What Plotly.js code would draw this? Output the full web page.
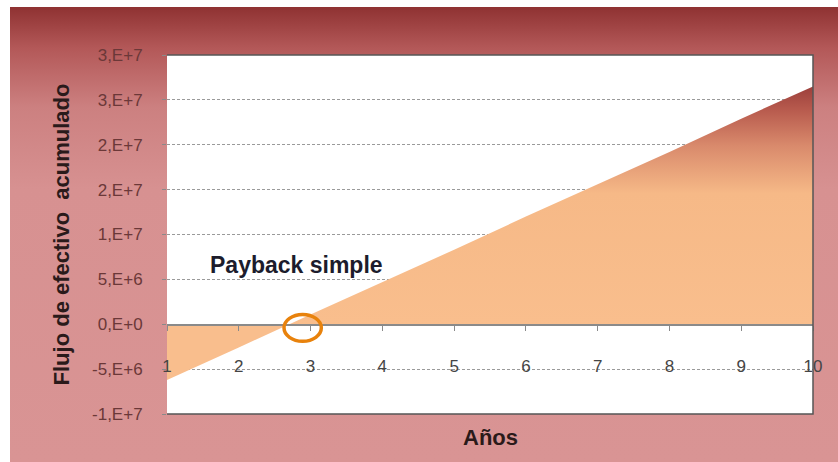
<!DOCTYPE html>
<html>
<head>
<meta charset="utf-8">
<script src="https://cdn.plot.ly/plotly-3.0.1.min.js"></script>
<style>
  html, body { margin: 0; padding: 0; background: #ffffff; }
  #wrap { position: relative; width: 838px; height: 462px; }
  #bg { position: absolute; left: 10px; top: 7px; right: 0; bottom: 0;
        background: linear-gradient(to bottom, #8f3232 0%, #b35858 9%, #cc8080 22%, #d79191 40%, #d99494 100%); }
  #chart { position: absolute; left: 0; top: 0; width: 838px; height: 462px; }
</style>
</head>
<body>
<div id="wrap"><div id="bg"></div><div id="chart"></div></div>
<script>
// Data
const years = [1, 2, 3, 4, 5, 6, 7, 8, 9, 10];
const cumulativeCashFlow = [-6.2e6, -2.6e6, 1.1e6, 4.7e6, 8.3e6, 12.0e6, 15.6e6, 19.2e6, 22.9e6, 26.5e6];
const yTickValues = [-1e7, -5e6, 0, 5e6, 1e7, 1.5e7, 2e7, 2.5e7, 3e7];
const yTickLabels = ['-1,E+7', '-5,E+6', '0,E+0', '5,E+6', '1,E+7', '2,E+7', '2,E+7', '3,E+7', '3,E+7'];
const xTickLabels = ['1', '2', '3', '4', '5', '6', '7', '8', '9', '10'];

const trace = {
  x: years,
  y: cumulativeCashFlow,
  type: 'scatter',
  mode: 'lines',
  line: { width: 0, color: 'rgba(0,0,0,0)' },
  fill: 'tozeroy',
  fillcolor: '#f9bd8c',
  fillgradient: {
    type: 'vertical',
    start: 0,
    stop: 26.5e6,
    colorscale: [[0, '#f9be8d'], [0.55, '#f6b987'], [0.75, '#d98a6c'], [0.9, '#b85b4e'], [1, '#9c3f3b']]
  },
  hoverinfo: 'skip',
  showlegend: false
};

const boldFont = 'Liberation Sans, Arial, sans-serif';

const layout = {
  width: 838, height: 462,
  margin: { l: 167, r: 25, t: 55, b: 48 },
  paper_bgcolor: 'rgba(0,0,0,0)',
  plot_bgcolor: '#ffffff',
  showlegend: false,
  font: { family: 'Liberation Sans, Arial, sans-serif' },
  xaxis: {
    range: [1, 10],
    tickvals: years,
    ticktext: xTickLabels,
    anchor: 'free',
    position: 0.25,
    showline: true,
    linecolor: '#8a8a8a',
    linewidth: 1.5,
    ticks: 'outside',
    ticklen: 5,
    tickcolor: '#8a8a8a',
    ticklabelstandoff: 21,
    tickfont: { size: 17, color: '#454545' },
    showgrid: false,
    zeroline: false,
    title: { text: '' }
  },
  yaxis: {
    range: [-1e7, 3e7],
    tickvals: yTickValues,
    ticktext: yTickLabels,
    ticks: 'outside',
    ticklen: 4,
    tickcolor: '#8a8a8a',
    ticklabelstandoff: 16,
    tickfont: { size: 17, color: '#6b3838' },
    showgrid: true,
    gridcolor: '#9a9a9a',
    griddash: '3px,2px',
    gridwidth: 1,
    zeroline: false,
    showline: false,
    title: { text: 'Flujo de efectivo  acumulado', font: { family: boldFont, size: 22, color: '#2a1a1a', weight: 'bold' }, standoff: 16 }
  },
  annotations: [
    { xref: 'paper', yref: 'paper', x: 0.5, y: -0.025, yanchor: 'top', showarrow: false,
      text: '<b>Años</b>', font: { family: boldFont, size: 22, color: '#2a1a1a' } },
    { xref: 'x', yref: 'y', x: 2.8, y: 6.6e6, showarrow: false,
      text: '<b>Payback simple</b>', font: { family: boldFont, size: 23, color: '#1c1c2c' } }
  ],
  shapes: [
    { type: 'path', xref: 'paper', yref: 'paper', path: 'M0,1 L1,1 L1,0 L0,0',
      line: { color: '#555555', width: 1.5 }, layer: 'above' },
    { type: 'circle', xref: 'x', yref: 'y', x0: 2.63, x1: 3.15, y0: -1.9e6, y1: 1.1e6,
      line: { color: '#e8820c', width: 3.5 }, layer: 'above' }
  ]
};

Plotly.newPlot('chart', [trace], layout, { staticPlot: true });
</script>
</body>
</html>
